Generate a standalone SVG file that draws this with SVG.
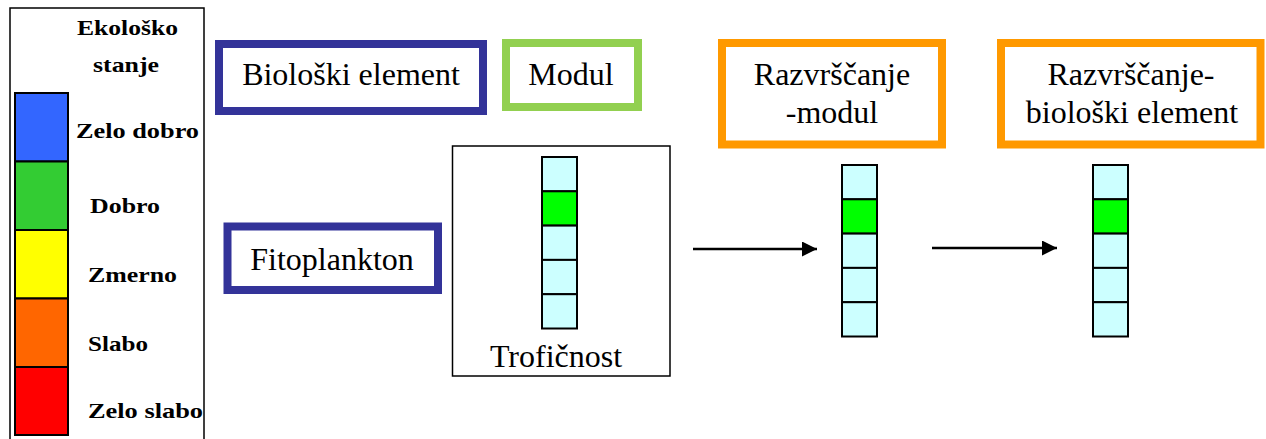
<svg xmlns="http://www.w3.org/2000/svg" width="1266" height="439" viewBox="0 0 1266 439">
  <style>
    .legend-text { font-family: "Liberation Serif", "Times New Roman", serif; font-weight: bold; font-size: 22px; fill: #000; }
    .label { font-family: "Liberation Serif", "Times New Roman", serif; font-size: 32px; fill: #000; text-anchor: middle; }
    .frame-blue { fill: #fff; stroke: #333399; stroke-width: 8; }
    .frame-green { fill: #fff; stroke: #92D050; stroke-width: 8; }
    .frame-orange { fill: #fff; stroke: #FF9900; stroke-width: 8; }
    .thin { fill: none; stroke: #000; stroke-width: 1.5; }
    .cell { fill: #CCFFFF; stroke: #000; stroke-width: 2; }
    .cell-hit { fill: #00FF00; stroke: #000; stroke-width: 2; }
    .swatch { stroke: #000; stroke-width: 2; }
    .arrow { stroke: #000; stroke-width: 2.5; fill: none; marker-end: url(#head); }
  </style>
  <defs>
    <marker id="head" markerUnits="userSpaceOnUse" markerWidth="16" markerHeight="16" refX="15" refY="7.5" orient="auto">
      <path d="M0,0 L15,7.5 L0,15 z" fill="#000"/>
    </marker>
  </defs>

  <rect width="1266" height="439" fill="#fff"/>

  <!-- Legend: ecological status scale -->
  <g id="legend">
    <rect class="thin" x="10" y="8" width="194" height="440"/>
    <text class="legend-text" x="77" y="35" textLength="101" lengthAdjust="spacingAndGlyphs">Ekološko</text>
    <text class="legend-text" x="93" y="72" textLength="66" lengthAdjust="spacingAndGlyphs">stanje</text>
    <rect class="swatch" x="15" y="93" width="53" height="68.5" fill="#3366FF"/>
    <rect class="swatch" x="15" y="161.5" width="53" height="68.5" fill="#33CC33"/>
    <rect class="swatch" x="15" y="230" width="53" height="68.5" fill="#FFFF00"/>
    <rect class="swatch" x="15" y="298.5" width="53" height="68.5" fill="#FF6600"/>
    <rect class="swatch" x="15" y="367" width="53" height="68" fill="#FF0000"/>
    <text class="legend-text" x="76" y="138" textLength="123" lengthAdjust="spacingAndGlyphs">Zelo dobro</text>
    <text class="legend-text" x="90" y="213" textLength="70" lengthAdjust="spacingAndGlyphs">Dobro</text>
    <text class="legend-text" x="88" y="282" textLength="89" lengthAdjust="spacingAndGlyphs">Zmerno</text>
    <text class="legend-text" x="88" y="351" textLength="60" lengthAdjust="spacingAndGlyphs">Slabo</text>
    <text class="legend-text" x="88" y="418" textLength="115" lengthAdjust="spacingAndGlyphs">Zelo slabo</text>
  </g>

  <!-- Header boxes -->
  <g id="bioloski-element">
    <rect class="frame-blue" x="219" y="44" width="264" height="67"/>
    <text class="label" x="351" y="85">Biološki element</text>
  </g>
  <g id="modul">
    <rect class="frame-green" x="506" y="43" width="132" height="64"/>
    <text class="label" x="571" y="85">Modul</text>
  </g>
  <g id="razvrscanje-modul">
    <rect class="frame-orange" x="722" y="43" width="220" height="101.5"/>
    <text class="label" x="832" y="85">Razvrščanje</text>
    <text class="label" x="832" y="123">-modul</text>
  </g>
  <g id="razvrscanje-bioloski">
    <rect class="frame-orange" x="1001" y="43" width="259.5" height="101.5"/>
    <text class="label" x="1131" y="85">Razvrščanje-</text>
    <text class="label" x="1132" y="123">biološki element</text>
  </g>

  <g id="fitoplankton">
    <rect class="frame-blue" x="227.5" y="226.5" width="210.5" height="63.5"/>
    <text class="label" x="332" y="270">Fitoplankton</text>
  </g>

  <!-- Trophic state module with its five-class column -->
  <g id="troficnost">
    <rect class="thin" x="452.5" y="146" width="217.5" height="230"/>
    <rect class="cell" x="542" y="157" width="35" height="34.3"/>
    <rect class="cell-hit" x="542" y="191.3" width="35" height="34.3"/>
    <rect class="cell" x="542" y="225.6" width="35" height="34.3"/>
    <rect class="cell" x="542" y="259.9" width="35" height="34.3"/>
    <rect class="cell" x="542" y="294.2" width="35" height="34.3"/>
    <text class="label" x="556" y="367">Trofičnost</text>
  </g>

  <g id="column-modul">
    <rect class="cell" x="842" y="165" width="35" height="34.3"/>
    <rect class="cell-hit" x="842" y="199.3" width="35" height="34.3"/>
    <rect class="cell" x="842" y="233.6" width="35" height="34.3"/>
    <rect class="cell" x="842" y="267.9" width="35" height="34.3"/>
    <rect class="cell" x="842" y="302.2" width="35" height="34.3"/>
  </g>

  <g id="column-bioloski">
    <rect class="cell" x="1093" y="165" width="35" height="34.3"/>
    <rect class="cell-hit" x="1093" y="199.3" width="35" height="34.3"/>
    <rect class="cell" x="1093" y="233.6" width="35" height="34.3"/>
    <rect class="cell" x="1093" y="267.9" width="35" height="34.3"/>
    <rect class="cell" x="1093" y="302.2" width="35" height="34.3"/>
  </g>

  <!-- Connectors -->
  <g id="connectors">
    <line class="arrow" x1="693" y1="249" x2="817" y2="249"/>
    <line class="arrow" x1="932" y1="248" x2="1057" y2="248"/>
  </g>
</svg>
